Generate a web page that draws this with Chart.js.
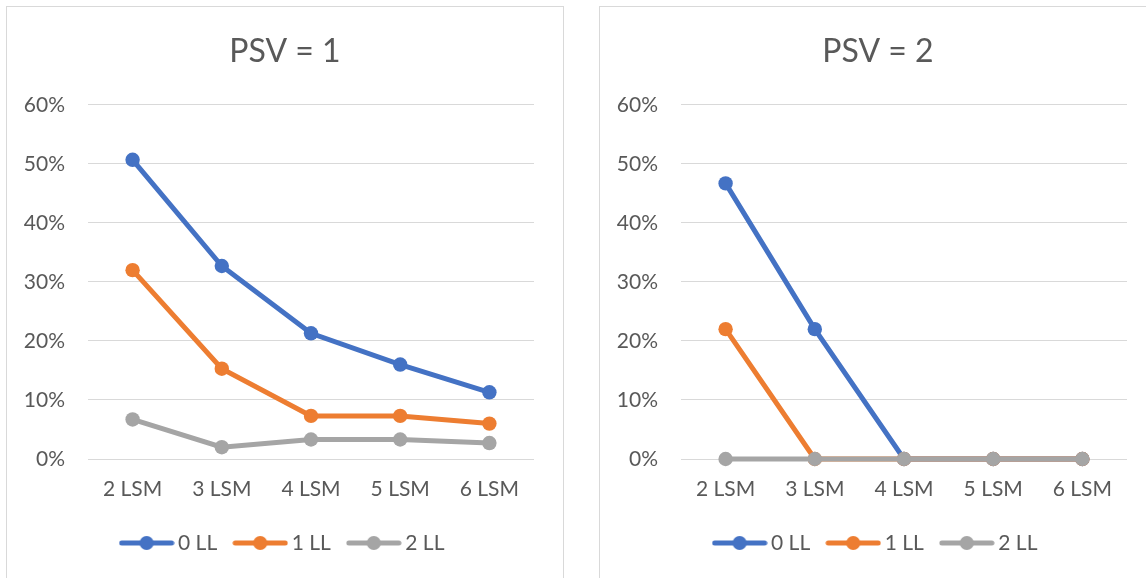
<!DOCTYPE html>
<html>
<head>
<meta charset="utf-8">
<script src="https://cdn.jsdelivr.net/npm/chart.js@4.4.1/dist/chart.umd.min.js"></script>
<style>
  html, body { margin: 0; padding: 0; background: #ffffff; overflow: hidden; width: 1146px; height: 578px; }
  .panel { position: absolute; top: 6px; border: 1px solid #D9D9D9; background: #ffffff; height: 600px; }
  #panel1 { left: 6px; width: 556px; }
  #panel2 { left: 599px; width: 600px; }
  canvas { position: absolute; left: 0; top: 0; }
</style>
</head>
<body>
<div class="panel" id="panel1"><canvas id="chart1" width="556" height="571"></canvas></div>
<div class="panel" id="panel2"><canvas id="chart2" width="556" height="571"></canvas></div>
<script>
// Categories and tick values
const categories = ['2 LSM', '3 LSM', '4 LSM', '5 LSM', '6 LSM'];
const seriesNames = ['0 LL', '1 LL', '2 LL'];
const yTickValues = [0, 10, 20, 30, 40, 50, 60];
const chartTitles = ['PSV = 1', 'PSV = 2'];

// Shares in percent, PSV = 1
const psv1Ll0 = [50.7, 32.7, 21.3, 16.0, 11.3];
const psv1Ll1 = [32.0, 15.3, 7.3, 7.3, 6.0];
const psv1Ll2 = [6.7, 2.0, 3.3, 3.3, 2.7];

// Shares in percent, PSV = 2
const psv2Ll0 = [46.7, 22.0, 0, 0, 0];
const psv2Ll1 = [22.0, 0, 0, 0, 0];
const psv2Ll2 = [0, 0, 0, 0, 0];

const seriesColors = ['#4472C4', '#ED7D31', '#A5A5A5'];
const textColor = '#595959';
const gridColor = '#D9D9D9';
const fontFamily = 'Lato, "Open Sans", sans-serif';

// Legend symbol: short line with a dot in the middle
function legendSymbol(color) {
  const c = document.createElement('canvas');
  c.width = 56; c.height = 16;
  const g = c.getContext('2d');
  g.strokeStyle = color;
  g.lineWidth = 5;
  g.lineCap = 'round';
  g.beginPath(); g.moveTo(3, 8); g.lineTo(53, 8); g.stroke();
  g.fillStyle = color;
  g.beginPath(); g.arc(28, 8, 7, 0, Math.PI * 2); g.fill();
  return c;
}
const symbols = seriesColors.map(legendSymbol);

function buildChart(canvasId, title, seriesData) {
  const datasets = seriesData.map((values, i) => ({
    label: seriesNames[i],
    data: values,
    borderColor: seriesColors[i],
    backgroundColor: seriesColors[i],
    pointBackgroundColor: seriesColors[i],
    pointBorderColor: seriesColors[i],
    pointBorderWidth: 0,
    pointRadius: 7.2,
    borderWidth: 5,
    tension: 0,
    clip: false,
    order: seriesData.length - 1 - i
  }));

  return new Chart(document.getElementById(canvasId), {
    type: 'line',
    data: { labels: categories, datasets },
    options: {
      responsive: false,
      animation: false,
      events: [],
      layout: { padding: { left: 0, right: 0, top: 0, bottom: 14.5 } },
      plugins: {
        tooltip: { enabled: false },
        title: {
          display: true,
          text: title,
          color: textColor,
          font: { family: fontFamily, size: 32, weight: 'normal', lineHeight: 1.2 },
          padding: { top: 25.5, bottom: 34 }
        },
        legend: {
          display: true,
          position: 'bottom',
          labels: {
            color: textColor,
            font: { family: fontFamily, size: 21, lineHeight: 1.2 },
            usePointStyle: true,
            pointStyleWidth: 42,
            padding: 22,
            sort: (a, b) => a.datasetIndex - b.datasetIndex,
            generateLabels: (chart) => {
              const items = Chart.defaults.plugins.legend.labels.generateLabels(chart);
              items.forEach(it => { it.pointStyle = symbols[it.datasetIndex]; });
              return items;
            }
          }
        }
      },
      scales: {
        x: {
          type: 'category',
          offset: true,
          grid: { display: false, drawTicks: false },
          border: { display: false },
          ticks: {
            color: textColor,
            font: { family: fontFamily, size: 21, lineHeight: 1.2 },
            padding: 18,
            maxRotation: 0,
            autoSkip: false
          },
          afterFit: (scale) => { scale.height = 51.5; }
        },
        y: {
          min: 0,
          max: 60,
          afterBuildTicks: (scale) => { scale.ticks = yTickValues.map(v => ({ value: v })); },
          grid: { color: gridColor, lineWidth: 1, drawTicks: false },
          border: { display: false },
          ticks: {
            color: textColor,
            font: { family: fontFamily, size: 21, lineHeight: 1.2 },
            padding: 23,
            callback: (v) => v + '%'
          },
          afterFit: (scale) => { scale.width = 81; }
        },
        // empty right-hand margin strip beside the plot
        yRight: {
          position: 'right',
          min: 0,
          max: 60,
          grid: { display: false, drawTicks: false },
          border: { display: false },
          ticks: { display: false },
          afterFit: (scale) => { scale.width = 29; }
        }
      }
    }
  });
}

buildChart('chart1', chartTitles[0], [psv1Ll0, psv1Ll1, psv1Ll2]);
buildChart('chart2', chartTitles[1], [psv2Ll0, psv2Ll1, psv2Ll2]);
</script>
</body>
</html>
